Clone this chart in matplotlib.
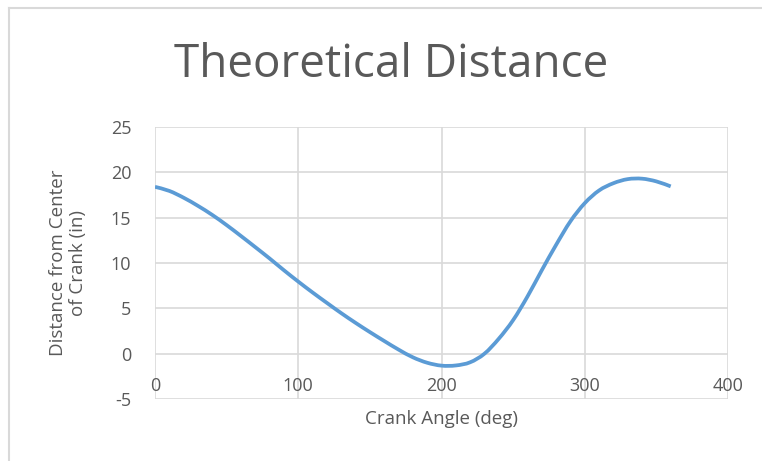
import matplotlib
matplotlib.use("Agg")
import matplotlib.pyplot as plt
from matplotlib.lines import Line2D
from matplotlib.path import Path
from matplotlib.patches import PathPatch

plt.rcParams['font.family'] = ['Open Sans', 'DejaVu Sans']
plt.rcParams['axes.unicode_minus'] = False

W, H = 762, 461
TEXT_GRAY = "#595959"
GRID_GRAY = "#D9D9D9"
LINE_BLUE = "#5B9BD5"

# values, every 10 degrees
crank_angle = [0, 10, 20, 30, 40, 50, 60, 70, 80, 90, 100, 110, 120, 130, 140, 150, 160, 170, 180,
               190, 200, 210, 220, 230, 240, 250, 260, 270, 280, 290, 300, 310, 320, 330, 340, 350, 360]
distance = [18.4, 17.95, 17.2, 16.3, 15.3, 14.18, 12.98, 11.75, 10.5, 9.2, 7.95, 6.75, 5.6, 4.47, 3.4, 2.38,
            1.4, 0.45, -0.4, -1.0, -1.32, -1.3, -0.95, 0.0, 1.65, 3.7, 6.3, 9.2, 12.0, 14.6, 16.6, 18.0,
            18.8, 19.25, 19.3, 19.0, 18.45]

x_ticks = [0, 100, 200, 300, 400]
y_ticks = [-5, 0, 5, 10, 15, 20, 25]


def smooth_path(xs, ys):
    # excel style "smoothed line": cubic bezier through every point
    pts = list(zip(xs, ys))
    verts = [pts[0]]
    codes = [Path.MOVETO]
    n = len(pts)
    for i in range(n - 1):
        p0 = pts[i - 1] if i > 0 else pts[i]
        p1 = pts[i]
        p2 = pts[i + 1]
        p3 = pts[i + 2] if i + 2 < n else pts[i + 1]
        c1 = (p1[0] + (p2[0] - p0[0]) / 6, p1[1] + (p2[1] - p0[1]) / 6)
        c2 = (p2[0] - (p3[0] - p1[0]) / 6, p2[1] - (p3[1] - p1[1]) / 6)
        verts += [c1, c2, p2]
        codes += [Path.CURVE4] * 3
    return Path(verts, codes)


fig = plt.figure(figsize=(W / 100, H / 100), dpi=100)
ax = fig.add_axes([155 / W, 1 - 399 / H, (728 - 155) / W, (399 - 127) / H])

ax.add_patch(PathPatch(smooth_path(crank_angle, distance), facecolor="none",
                       edgecolor=LINE_BLUE, lw=2.7, capstyle="butt"))

ax.set_xlim(0, 400)
ax.set_ylim(-5, 25)
ax.set_xticks(x_ticks)
ax.set_yticks(y_ticks)
ax.grid(True, color=GRID_GRAY, lw=1.2)
ax.set_axisbelow(True)
for s in ax.spines.values():
    s.set_visible(False)

ax.tick_params(axis="both", length=0, labelcolor=TEXT_GRAY, labelsize=13)
ax.tick_params(axis="x", pad=-16)
ax.tick_params(axis="y", pad=17)

ax.set_xlabel("Crank Angle (deg)", color=TEXT_GRAY, fontsize=13.5, labelpad=8)
ax.set_ylabel("Distance from Center\nof Crank (in)", color=TEXT_GRAY, fontsize=13.5, labelpad=17, linespacing=1.15)

fig.text(391 / W, 1 - 77 / H, "Theoretical Distance", color=TEXT_GRAY, fontsize=33,
         ha="center", va="baseline")

# chart area border (top and left edges visible)
fig.add_artist(Line2D([9 / W, 1], [1 - 8.5 / H, 1 - 8.5 / H], color=GRID_GRAY, lw=1.5))
fig.add_artist(Line2D([9 / W, 9 / W], [0, 1 - 8.5 / H], color=GRID_GRAY, lw=1.5))

fig.savefig("out.png", dpi=100)
